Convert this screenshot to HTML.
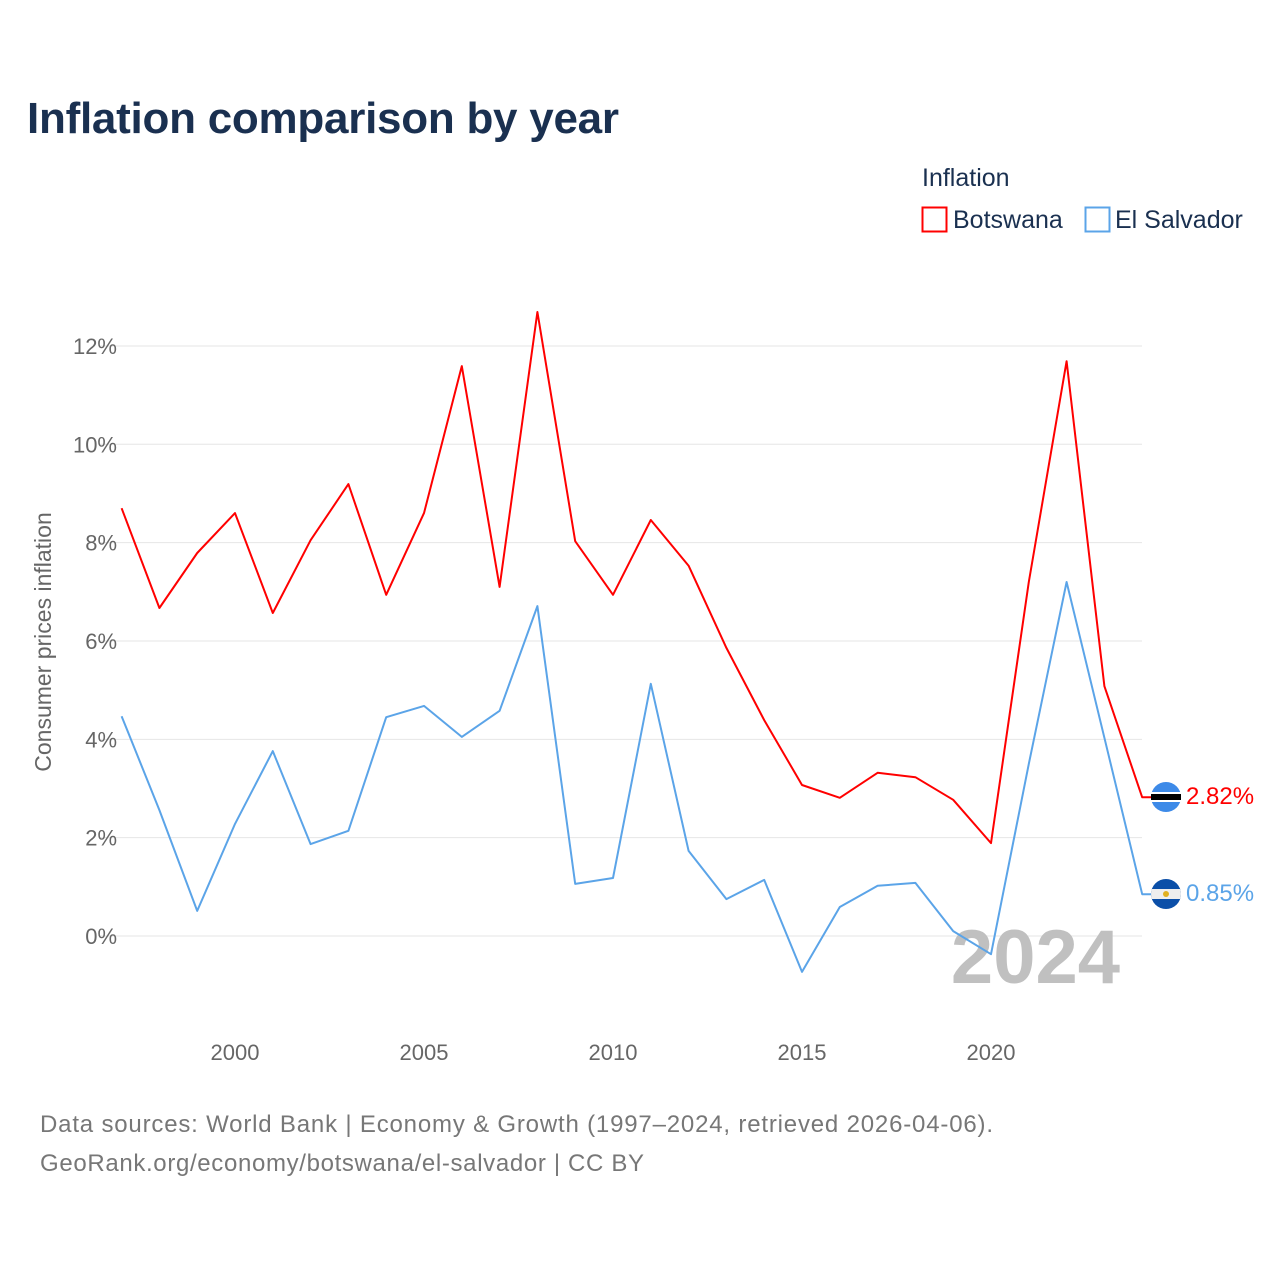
<!DOCTYPE html>
<html><head><meta charset="utf-8"><style>
body{margin:0;background:#fff;font-family:"Liberation Sans",sans-serif}
</style></head><body>
<svg id="chart" width="1280" height="1280" xmlns="http://www.w3.org/2000/svg">
<rect width="1280" height="1280" fill="#fff"/>
<text x="27" y="133" font-size="44" font-weight="bold" fill="#1a3050" textLength="592">Inflation comparison by year</text>
<text x="922" y="186" font-size="25" fill="#1a3050">Inflation</text>
<g><rect x="922.5" y="207.5" width="24" height="24" fill="none" stroke="#ff0000" stroke-width="2"/><text x="953" y="228" font-size="25" fill="#1a3050">Botswana</text></g>
<g><rect x="1085.5" y="207.5" width="24" height="24" fill="none" stroke="#5ba4e8" stroke-width="2"/><text x="1115" y="228" font-size="25" fill="#1a3050">El Salvador</text></g>
<g id="grid"></g>
<text transform="translate(51,642) rotate(-90)" text-anchor="middle" font-size="23" fill="#666">Consumer prices inflation</text>
<text x="1120" y="983" text-anchor="end" font-size="76" font-weight="bold" fill="#c0c0c0">2024</text>
<g id="series"></g>
<g><circle cx="1166" cy="797" r="15" fill="#3d8ae8"/><rect x="1151" y="792" width="30" height="10" fill="#fff"/><rect x="1151" y="794" width="30" height="6" fill="#000"/></g>
<g><clipPath id="cf"><circle cx="1166" cy="894" r="15"/></clipPath><g clip-path="url(#cf)"><rect x="1150" y="878" width="32" height="32" fill="#0b4fa8"/><rect x="1150" y="889" width="32" height="10" fill="#eee"/><circle cx="1166" cy="894" r="3" fill="#e0b020"/></g></g>
<text x="1186" y="804" font-size="24" fill="#ff0000">2.82%</text>
<text x="1186" y="901" font-size="24" fill="#5ba4e8">0.85%</text>
<text x="40" y="1132" font-size="24" fill="#777" textLength="953">Data sources: World Bank | Economy &amp; Growth (1997–2024, retrieved 2026-04-06).</text>
<text x="40" y="1171" font-size="24" fill="#777" textLength="604">GeoRank.org/economy/botswana/el-salvador | CC BY</text>
</svg>
<script>
const years=[1997,1998,1999,2000,2001,2002,2003,2004,2005,2006,2007,2008,2009,2010,2011,2012,2013,2014,2015,2016,2017,2018,2019,2020,2021,2022,2023,2024];
const botswana=[8.70,6.67,7.79,8.60,6.57,8.05,9.19,6.94,8.60,11.59,7.10,12.69,8.03,6.94,8.46,7.53,5.86,4.39,3.07,2.81,3.32,3.23,2.77,1.89,7.2,11.69,5.08,2.82];
const elSalvador=[4.47,2.56,0.51,2.28,3.76,1.87,2.14,4.45,4.68,4.05,4.58,6.71,1.06,1.18,5.13,1.73,0.75,1.14,-0.73,0.59,1.02,1.08,0.10,-0.37,3.5,7.2,4.03,0.85];
const yTicks=[0,2,4,6,8,10,12];
const xTicks=[2000,2005,2010,2015,2020];
const NS="http://www.w3.org/2000/svg";
const xs=y=>235+(y-2000)*37.8;
const ys=v=>936-v*49.17;
const grid=document.getElementById('grid'),ser=document.getElementById('series');
function mk(tag,attrs,parent){const e=document.createElementNS(NS,tag);for(const k in attrs)e.setAttribute(k,attrs[k]);parent.appendChild(e);return e;}
yTicks.forEach(t=>{
 const l=mk('line',{x1:100,x2:1142,y1:ys(t),y2:ys(t),stroke:'#e6e6e6','stroke-width':1},grid);
 
 
 const tx=mk('text',{x:117,y:ys(t)+8,'text-anchor':'end','font-size':22,fill:'#666'},grid);
 tx.textContent=t+'%';
 
 
});
xTicks.forEach(t=>{
 const tx=mk('text',{x:xs(t),y:1060,'text-anchor':'middle','font-size':22,fill:'#666'},grid);
 tx.textContent=t;
 
 
});
function line(vals,color,name){
 let d=vals.map((v,i)=>(i?'L':'M')+xs(years[i]).toFixed(1)+' '+ys(v).toFixed(1)).join(' ');
 d+=' L'+(xs(years[years.length-1])+10)+' '+ys(vals[vals.length-1]).toFixed(1);
 const p=mk('path',{d:d,fill:'none',stroke:color,'stroke-width':2,'stroke-linejoin':'round'},ser);
 
 
}
line(elSalvador,'#5ba4e8','el-salvador-line');
line(botswana,'#ff0000','botswana-line');
</script>
</body></html>
